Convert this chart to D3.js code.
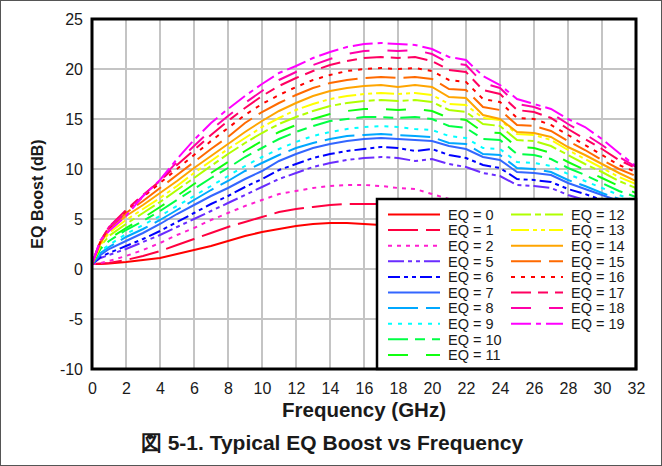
<!DOCTYPE html>
<html>
<head>
  <meta charset="utf-8">
  <title>Typical EQ Boost vs Frequency</title>
  <script src="https://d3js.org/d3.v7.min.js"></script>
  <style>
    body { margin: 0; background: #fff; }
    svg { display: block; font-family: Arial, "Liberation Sans", sans-serif; }
    .tick text { font-size: 16px; fill: #1a1a1a; }
    .legend-text { font-size: 14.5px; fill: #1a1a1a; }
    .axis-title { font-size: 16px; font-weight: bold; fill: #1a1a1a; }
  </style>
</head>
<body>
<svg id="chart" width="662" height="466"></svg>
<script>
  // 频率点 (GHz)
  const freqGHz = [0, 0.5, 1, 2, 3, 4, 5, 6, 7, 8, 9, 10, 11, 12, 13, 14, 15, 16, 17, 18, 19, 20, 21, 22, 23, 24, 25, 26, 27, 28, 29, 30, 31, 32];

  // 各 EQ 设置的增益 (dB)
  const eq0  = [0.5, 0.5, 0.55, 0.7, 0.9, 1.1, 1.5, 1.9, 2.3, 2.8, 3.3, 3.7, 4.0, 4.3, 4.5, 4.6, 4.6, 4.5, 4.4, 4.2, 4.0, 3.9, 3.6, 3.5, 3.2, 3.0, 2.7, 2.6, 2.4, 2.2, 2.0, 1.8, 1.6, 1.4];
  const eq1  = [0.5, 0.55, 0.6, 0.9, 1.3, 1.8, 2.4, 3.0, 3.6, 4.2, 4.7, 5.2, 5.7, 6.0, 6.2, 6.4, 6.5, 6.5, 6.5, 6.4, 6.2, 6.1, 5.8, 5.6, 5.2, 5.0, 4.6, 4.4, 4.1, 3.8, 3.5, 3.2, 2.9, 2.6];
  const eq2  = [0.5, 0.6, 0.8, 1.3, 1.9, 2.6, 3.4, 4.1, 4.9, 5.6, 6.3, 6.9, 7.5, 7.8, 8.1, 8.3, 8.4, 8.4, 8.3, 8.1, 8.0, 7.5, 7.0, 6.8, 6.4, 6.1, 5.6, 5.4, 5.1, 4.7, 4.4, 4.0, 3.7, 3.4];
  const eq5  = [0.5, 1.1, 1.4, 2.0, 2.7, 3.4, 4.2, 5.0, 5.8, 6.6, 7.4, 8.2, 9.0, 9.6, 10.2, 10.6, 10.9, 11.1, 11.2, 11.1, 10.8, 11.0, 10.5, 10.2, 9.6, 9.3, 8.4, 8.3, 8.1, 7.4, 6.9, 6.4, 5.8, 5.3];
  const eq6  = [0.5, 1.2, 1.6, 2.3, 3.0, 3.8, 4.7, 5.6, 6.5, 7.3, 8.2, 9.0, 9.9, 10.5, 11.1, 11.5, 11.8, 12.0, 12.2, 12.1, 11.8, 12.0, 11.4, 11.1, 10.4, 10.1, 9.0, 8.9, 8.7, 8.0, 7.5, 6.9, 6.3, 5.8];
  const eq7  = [0.5, 1.4, 2.0, 2.8, 3.6, 4.5, 5.5, 6.4, 7.3, 8.1, 9.0, 9.8, 10.8, 11.5, 12.1, 12.5, 12.8, 13.0, 13.1, 13.0, 12.9, 12.8, 12.3, 12.0, 11.2, 10.9, 9.7, 9.6, 9.4, 8.6, 8.0, 7.4, 6.8, 6.2];
  const eq8  = [0.5, 1.6, 2.2, 3.2, 4.0, 4.9, 5.9, 6.9, 7.9, 8.8, 9.8, 10.6, 11.4, 12.1, 12.6, 13.0, 13.3, 13.4, 13.5, 13.4, 13.3, 13.2, 12.6, 12.5, 11.5, 11.4, 10.1, 10.0, 9.7, 8.9, 8.3, 7.6, 7.0, 6.4];
  const eq9  = [0.5, 1.8, 2.4, 3.5, 4.4, 5.3, 6.3, 7.3, 8.3, 9.3, 10.3, 11.2, 12.0, 12.7, 13.3, 13.7, 14.0, 14.2, 14.3, 14.2, 14.0, 13.9, 13.3, 13.1, 12.1, 12.0, 10.7, 10.6, 10.3, 9.5, 8.8, 8.1, 7.4, 6.8];
  const eq10 = [0.5, 2.0, 2.8, 3.9, 4.8, 5.8, 6.9, 8.0, 9.1, 10.1, 11.2, 12.1, 13.0, 13.7, 14.3, 14.8, 15.0, 15.2, 15.2, 15.1, 15.2, 15.0, 14.3, 14.1, 13.0, 12.9, 11.5, 11.4, 11.0, 10.1, 9.4, 8.6, 7.8, 7.2];
  const eq11 = [0.5, 2.1, 3.0, 4.1, 5.1, 6.2, 7.3, 8.5, 9.6, 10.7, 11.8, 12.8, 13.7, 14.4, 15.0, 15.5, 15.8, 16.0, 16.0, 15.9, 16.0, 15.8, 15.1, 14.9, 13.7, 13.6, 12.2, 12.1, 11.6, 10.7, 9.9, 9.1, 8.3, 7.6];
  const eq12 = [0.5, 2.3, 3.3, 4.5, 5.6, 6.7, 7.9, 9.1, 10.3, 11.5, 12.6, 13.6, 14.5, 15.2, 15.8, 16.3, 16.6, 16.8, 16.9, 16.8, 16.9, 16.7, 15.9, 15.7, 14.5, 14.3, 12.9, 12.8, 12.3, 11.4, 10.5, 9.7, 8.8, 8.1];
  const eq13 = [0.5, 2.4, 3.6, 4.9, 6.0, 7.1, 8.3, 9.6, 10.8, 12.0, 13.1, 14.2, 15.1, 15.9, 16.5, 17.0, 17.3, 17.5, 17.6, 17.5, 17.6, 17.4, 16.5, 16.4, 15.1, 14.9, 13.5, 13.4, 12.9, 11.9, 11.0, 10.1, 9.2, 8.5];
  const eq14 = [0.5, 2.6, 3.9, 5.3, 6.4, 7.6, 8.8, 10.1, 11.3, 12.5, 13.7, 14.8, 15.8, 16.6, 17.3, 17.8, 18.1, 18.3, 18.4, 18.2, 18.4, 18.2, 17.2, 17.1, 15.4, 15.0, 13.7, 13.6, 13.2, 12.2, 11.4, 10.5, 9.6, 8.8];
  const eq15 = [0.5, 2.7, 4.0, 5.6, 6.8, 8.1, 9.4, 10.7, 12.0, 13.2, 14.6, 15.7, 16.6, 17.4, 18.1, 18.6, 18.9, 19.1, 19.2, 19.1, 19.2, 19.0, 18.0, 17.9, 16.2, 15.9, 14.4, 14.3, 13.8, 12.8, 11.9, 10.9, 10.0, 9.3];
  const eq16 = [0.5, 2.8, 4.1, 5.8, 7.2, 8.6, 10.0, 11.4, 12.8, 14.1, 15.4, 16.5, 17.4, 18.2, 18.9, 19.4, 19.8, 20.0, 20.1, 20.0, 20.1, 19.8, 18.9, 18.7, 17.0, 16.7, 15.1, 15.0, 14.4, 13.4, 12.4, 11.4, 10.4, 9.7];
  const eq17 = [0.5, 2.8, 4.2, 5.9, 7.4, 8.8, 10.4, 11.9, 13.4, 14.8, 16.1, 17.3, 18.3, 19.1, 19.8, 20.4, 20.8, 21.1, 21.2, 21.1, 21.2, 20.8, 19.9, 19.7, 17.9, 17.5, 15.9, 15.7, 15.1, 14.0, 13.0, 12.0, 10.9, 10.1];
  const eq18 = [0.5, 2.9, 4.2, 5.6, 7.3, 8.9, 10.7, 12.3, 13.9, 15.3, 16.6, 17.8, 18.9, 19.7, 20.4, 21.0, 21.5, 21.8, 21.9, 21.8, 21.9, 21.5, 20.6, 20.4, 18.6, 18.1, 16.5, 16.2, 15.6, 14.5, 13.5, 12.4, 11.2, 10.2];
  const eq19 = [0.5, 2.9, 3.8, 5.3, 7.3, 8.9, 11.0, 12.9, 14.6, 16.0, 17.3, 18.5, 19.6, 20.3, 21.1, 21.7, 22.2, 22.5, 22.6, 22.5, 22.4, 22.0, 21.2, 20.9, 19.3, 18.4, 17.0, 16.5, 16.0, 15.0, 14.2, 13.0, 11.6, 10.3];

  const seriesNames = ["EQ = 0", "EQ = 1", "EQ = 2", "EQ = 5", "EQ = 6", "EQ = 7", "EQ = 8", "EQ = 9", "EQ = 10",
    "EQ = 11", "EQ = 12", "EQ = 13", "EQ = 14", "EQ = 15", "EQ = 16", "EQ = 17", "EQ = 18", "EQ = 19"];
  const seriesValues = [eq0, eq1, eq2, eq5, eq6, eq7, eq8, eq9, eq10, eq11, eq12, eq13, eq14, eq15, eq16, eq17, eq18, eq19];

  const xTicks = [0, 2, 4, 6, 8, 10, 12, 14, 16, 18, 20, 22, 24, 26, 28, 30, 32];
  const yTicks = [-10, -5, 0, 5, 10, 15, 20, 25];

  // 线型：颜色 + 虚线样式
  const lineStyles = [
    { color: "#ff0000", dash: null },
    { color: "#ff0040", dash: "30,8" },
    { color: "#ff1ecf", dash: "4,5" },
    { color: "#6a2cff", dash: "16,4,4,4,4,4" },
    { color: "#0000ff", dash: "12,4,4,4,4,4" },
    { color: "#3366ff", dash: null },
    { color: "#00a8ff", dash: "30,8" },
    { color: "#00ffff", dash: "4,6" },
    { color: "#00ff44", dash: "20,7,10,7" },
    { color: "#10ff10", dash: "20,18" },
    { color: "#b0ff00", dash: "20,4,6,4" },
    { color: "#ffff00", dash: "18,4,4,4,4,4" },
    { color: "#ffa500", dash: null },
    { color: "#ff6a00", dash: "30,8" },
    { color: "#ff0000", dash: "4,6" },
    { color: "#ff0060", dash: "20,7,10,7" },
    { color: "#ff00a8", dash: "20,18" },
    { color: "#ff00ff", dash: "20,5,5,5" }
  ];

  const svg = d3.select("#chart");
  const W = 662, H = 466;
  const plot = { left: 92, top: 19, right: 636, bottom: 369 };

  // 外框
  svg.append("rect")
    .attr("x", 0.5).attr("y", 0.5).attr("width", W - 1).attr("height", H - 1)
    .attr("fill", "#fff").attr("stroke", "#555").attr("stroke-width", 1);

  const x = d3.scaleLinear().domain([0, 32]).range([plot.left, plot.right]);
  const y = d3.scaleLinear().domain([-10, 25]).range([plot.bottom, plot.top]);

  // 网格
  const grid = svg.append("g").attr("stroke", "#c4c4c4").attr("stroke-width", 2);
  grid.selectAll(".vg").data(xTicks).join("line")
    .attr("x1", d => x(d)).attr("x2", d => x(d))
    .attr("y1", plot.top).attr("y2", plot.bottom);
  grid.selectAll(".hg").data(yTicks).join("line")
    .attr("x1", plot.left).attr("x2", plot.right)
    .attr("y1", d => y(d)).attr("y2", d => y(d));

  // 坐标轴（负号用普通连字符）
  const xAxis = svg.append("g")
    .attr("transform", `translate(0,${plot.bottom})`)
    .call(d3.axisBottom(x).tickValues(xTicks).tickSize(0).tickPadding(14).tickFormat(d => String(d)));
  xAxis.select(".domain").remove();

  const yAxis = svg.append("g")
    .attr("transform", `translate(${plot.left},0)`)
    .call(d3.axisLeft(y).tickValues(yTicks).tickSize(0).tickPadding(9).tickFormat(d => String(d)));
  yAxis.select(".domain").remove();
  svg.selectAll(".tick text").attr("font-family", null);

  // 曲线
  svg.append("clipPath").attr("id", "plot-clip")
    .append("rect")
    .attr("x", plot.left).attr("y", plot.top)
    .attr("width", plot.right - plot.left).attr("height", plot.bottom - plot.top);

  const line = d3.line()
    .x((d, i) => x(freqGHz[i]))
    .y(d => y(d));

  svg.append("g").attr("clip-path", "url(#plot-clip)")
    .selectAll("path")
    .data(seriesValues)
    .join("path")
    .attr("d", line)
    .attr("fill", "none")
    .attr("stroke", (d, i) => lineStyles[i].color)
    .attr("stroke-width", 2)
    .attr("stroke-dasharray", (d, i) => lineStyles[i].dash);

  // 图例
  const legend = { left: 377, top: 199, rowH: 15.6, firstRow: 214.5 };
  svg.append("rect")
    .attr("x", legend.left).attr("y", legend.top)
    .attr("width", plot.right - legend.left).attr("height", plot.bottom - legend.top)
    .attr("fill", "#fff").attr("stroke", "#000").attr("stroke-width", 2.5);

  const legendItems = svg.append("g").selectAll("g")
    .data(seriesNames)
    .join("g")
    .attr("transform", (d, i) => {
      const col = i < 10 ? 0 : 1;
      const row = i < 10 ? i : i - 10;
      return `translate(${col === 0 ? 388 : 511},${legend.firstRow + row * legend.rowH})`;
    });

  legendItems.append("line")
    .attr("x1", 0).attr("x2", 52)
    .attr("stroke", (d, i) => lineStyles[i].color)
    .attr("stroke-width", 2)
    .attr("stroke-dasharray", (d, i) => lineStyles[i].dash);

  legendItems.append("text")
    .attr("class", "legend-text")
    .attr("x", 60)
    .attr("dy", "0.36em")
    .text(d => d);

  // 绘图区边框
  svg.append("rect")
    .attr("x", plot.left).attr("y", plot.top)
    .attr("width", plot.right - plot.left).attr("height", plot.bottom - plot.top)
    .attr("fill", "none").attr("stroke", "#000").attr("stroke-width", 3);

  // 轴标题
  svg.append("text")
    .attr("class", "axis-title")
    .attr("transform", `translate(37,${(plot.top + plot.bottom) / 2}) rotate(-90)`)
    .attr("text-anchor", "middle")
    .attr("dy", "0.35em")
    .text("EQ Boost (dB)");

  svg.append("text")
    .attr("class", "axis-title")
    .attr("x", (plot.left + plot.right) / 2)
    .attr("y", 417)
    .attr("text-anchor", "middle")
    .style("font-size", "20.5px")
    .text("Frequency (GHz)");

  // 图题
  svg.append("text")
    .attr("x", 332)
    .attr("y", 450)
    .attr("text-anchor", "middle")
    .style("font-size", "21px")
    .style("font-weight", "bold")
    .attr("fill", "#1a1a1a")
    .text("図 5-1. Typical EQ Boost vs Frequency");
</script>
</body>
</html>
